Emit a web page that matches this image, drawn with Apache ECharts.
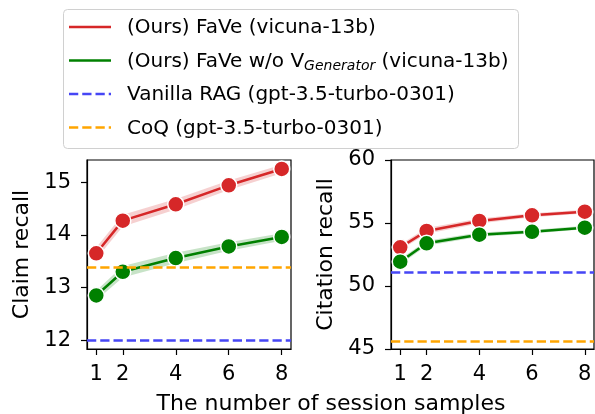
<!DOCTYPE html>
<html>
<head>
<meta charset="utf-8">
<script src="https://cdn.jsdelivr.net/npm/echarts@6/dist/echarts.min.js"></script>
<style>
  html, body { margin: 0; padding: 0; background: #fff; }
  #chart { width: 595px; height: 414px; }
</style>
</head>
<body>
<div id="chart"></div>
<script>
const samples = [1, 2, 4, 6, 8];

// claim recall (left)
const claimFave = [13.65, 14.27, 14.58, 14.94, 15.25];
const claimFaveLow = [13.54, 14.16, 14.48, 14.85, 15.17];
const claimFaveHigh = [13.76, 14.38, 14.68, 15.03, 15.33];
const claimNoGen = [12.85, 13.30, 13.56, 13.78, 13.96];
const claimNoGenLow = [12.76, 13.19, 13.46, 13.70, 13.89];
const claimNoGenHigh = [12.94, 13.41, 13.66, 13.86, 14.03];
const claimVanilla = 12.0;
const claimCoq = 13.39;

// citation recall (right)
const citeFave = [53.07, 54.37, 55.16, 55.61, 55.90];
const citeFaveLow = [52.85, 54.15, 54.97, 55.45, 55.75];
const citeFaveHigh = [53.30, 54.60, 55.35, 55.77, 56.05];
const citeNoGen = [51.93, 53.39, 54.07, 54.30, 54.63];
const citeNoGenLow = [51.70, 53.20, 53.90, 54.17, 54.50];
const citeNoGenHigh = [52.15, 53.60, 54.25, 54.45, 54.78];
const citeVanilla = 51.08;
const citeCoq = 45.61;

const claimTicks = [12, 13, 14, 15];
const citeTicks = [45, 50, 55, 60];

const legendNames = [
  '(Ours) FaVe (vicuna-13b)',
  '(Ours) FaVe w/o V{sub|Generator} (vicuna-13b)',
  'Vanilla RAG (gpt-3.5-turbo-0301)',
  'CoQ (gpt-3.5-turbo-0301)'
];

const RED = '#d62728', GREEN = '#008000', BLUE = '#4646f5', ORANGE = '#ffa500';
const FONT = 'DejaVu Sans';
const DASH = [9.25, 4];

const chart = echarts.init(document.getElementById('chart'));

function pairs(ys) { return samples.map((x, i) => [x, ys[i]]); }

// shaded error band, drawn as a polygon through the axis scales
function band(idx, low, high, color) {
  return {
    type: 'custom',
    xAxisIndex: idx, yAxisIndex: idx,
    silent: true, z: 1,
    data: [0],
    renderItem: function (params, api) {
      const pts = [];
      samples.forEach((x, i) => pts.push(api.coord([x, high[i]])));
      for (let i = samples.length - 1; i >= 0; i--) pts.push(api.coord([samples[i], low[i]]));
      return { type: 'polygon', shape: { points: pts }, style: { fill: color, opacity: 0.22 } };
    }
  };
}

function dataLine(idx, ys, color) {
  return {
    type: 'line', xAxisIndex: idx, yAxisIndex: idx, z: 3,
    data: pairs(ys),
    symbol: 'circle', symbolSize: 16,
    lineStyle: { color: color, width: 2.5 },
    itemStyle: { color: color, borderColor: '#fff', borderWidth: 1.5 }
  };
}

function hLine(idx, value, color) {
  return {
    type: 'line', xAxisIndex: idx, yAxisIndex: idx, data: [], z: 2,
    markLine: {
      silent: true, symbol: 'none', label: { show: false },
      lineStyle: { color: color, width: 2.5, type: DASH },
      data: [{ yAxis: value }],
      animation: false
    }
  };
}

function xAx(idx) {
  return {
    type: 'value', gridIndex: idx, min: 0.65, max: 8.35,
    splitLine: { show: false },
    axisLine: { lineStyle: { color: '#000', width: 1.2 } },
    axisTick: { customValues: samples, length: 6, lineStyle: { color: '#000', width: 1.2 } },
    axisLabel: { customValues: samples, color: '#000', fontSize: 21, fontFamily: FONT, margin: 15 }
  };
}

function yAx(idx, min, max, ticks, name) {
  return {
    type: 'value', gridIndex: idx, min: min, max: max,
    name: name, nameLocation: 'middle', nameGap: 54,
    nameTextStyle: { color: '#000', fontSize: 22, fontFamily: FONT },
    splitLine: { show: false },
    axisLine: { show: true, lineStyle: { color: '#000', width: 1.2 } },
    axisTick: { show: true, customValues: ticks, length: 6, lineStyle: { color: '#000', width: 1.2 } },
    axisLabel: { customValues: ticks, color: '#000', fontSize: 21, fontFamily: FONT, margin: 16 }
  };
}

const legendColors = [RED, GREEN, BLUE, ORANGE];
const graphics = [
  { type: 'rect', left: 63, top: 9, shape: { width: 455, height: 139, r: 4 },
    style: { fill: '#fff', stroke: '#d0d0d0', lineWidth: 1 } }
];
legendNames.forEach((name, i) => {
  const y = 27 + i * 33.5;
  graphics.push({
    type: 'line', shape: { x1: 69, y1: y, x2: 111, y2: y },
    style: { stroke: legendColors[i], lineWidth: 2.5, lineDash: i < 2 ? null : DASH }
  });
  graphics.push({
    type: 'text', x: 127, y: y + 1,
    style: {
      text: name, fill: '#000', font: '20px "DejaVu Sans"', verticalAlign: 'middle',
      rich: { sub: { fontSize: 14, fontStyle: 'italic', fontFamily: FONT, padding: [10, 0, 0, 0] } }
    }
  });
});
graphics.push({
  type: 'text', x: 331, y: 404,
  style: { text: 'The number of session samples', fill: '#000', font: '22px "DejaVu Sans"',
           align: 'center', verticalAlign: 'middle' }
});

chart.setOption({
  animation: false,
  grid: [
    { left: 87, top: 160, width: 204, height: 189, show: true, borderColor: '#000', borderWidth: 1.2 },
    { left: 391, top: 160, width: 203, height: 189, show: true, borderColor: '#000', borderWidth: 1.2 }
  ],
  xAxis: [xAx(0), xAx(1)],
  yAxis: [
    yAx(0, 11.835, 15.42, claimTicks, 'Claim recall'),
    yAx(1, 45, 60, citeTicks, 'Citation recall')
  ],
  series: [
    band(0, claimFaveLow, claimFaveHigh, RED),
    band(0, claimNoGenLow, claimNoGenHigh, GREEN),
    hLine(0, claimVanilla, BLUE),
    hLine(0, claimCoq, ORANGE),
    dataLine(0, claimFave, RED),
    dataLine(0, claimNoGen, GREEN),
    band(1, citeFaveLow, citeFaveHigh, RED),
    band(1, citeNoGenLow, citeNoGenHigh, GREEN),
    hLine(1, citeVanilla, BLUE),
    hLine(1, citeCoq, ORANGE),
    dataLine(1, citeFave, RED),
    dataLine(1, citeNoGen, GREEN)
  ],
  graphic: graphics
});
</script>
</body>
</html>
